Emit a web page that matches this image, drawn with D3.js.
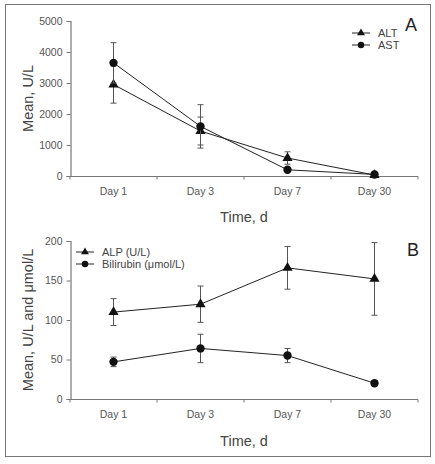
<!DOCTYPE html>
<html>
<head>
<meta charset="utf-8">
<script src="https://cdn.jsdelivr.net/npm/d3@7/dist/d3.min.js"></script>
<style>
  html, body { margin: 0; padding: 0; background: #fff; }
  svg { display: block; }
  text { font-family: "Liberation Sans", Arial, sans-serif; }
</style>
</head>
<body>
<svg id="chart" width="435" height="464"></svg>
<script>
// ---- Data ----
const days = ["Day 1", "Day 3", "Day 7", "Day 30"];

const altMean = [2950, 1450, 580, 30];
const altErr  = [600, 450, 200, 20];
const astMean = [3650, 1600, 200, 50];
const astErr  = [650, 700, 50, 20];

const alpMean = [110, 120, 166, 152];
const alpErr  = [17, 23, 27, 46];
const bilMean = [47, 64, 55, 20];
const bilErr  = [6, 18, 9, 3];

const ticksA = [0, 1000, 2000, 3000, 4000, 5000];
const ticksB = [0, 50, 100, 150, 200];

// ---- Drawing ----
const svg = d3.select("#chart");
const tickColor = "#555";
const axisColor = "#777";

svg.append("rect")
  .attr("x", 5.5).attr("y", 4.5).attr("width", 425).attr("height", 452)
  .attr("fill", "none").attr("stroke", "#777").attr("stroke-width", 1);

function panel(cfg) {
  const g = svg.append("g");
  const x = d3.scaleBand().domain(days).range([70, 418]).padding(0);
  const y = d3.scaleLinear().domain(cfg.domain).range([cfg.y0, cfg.y1]);
  const cx = d => x(d) + x.bandwidth() / 2;

  // y axis
  const ya = d3.axisLeft(y).tickValues(cfg.ticks).tickSize(4).tickPadding(4).tickFormat(d3.format("d"));
  const yg = g.append("g").attr("transform", "translate(70.5,0)").call(ya);
  // x axis
  const xa = d3.axisBottom(x).tickSize(0).tickPadding(11);
  const xg = g.append("g").attr("transform", `translate(0,${cfg.y0 + 0.5})`).call(xa);
  [yg, xg].forEach(a => {
    a.select(".domain").attr("stroke", axisColor).attr("stroke-width", 1.2);
    a.selectAll(".tick line").attr("stroke", axisColor);
    a.selectAll("text").attr("fill", tickColor).attr("font-size", 10.5)
      .style("font-family", "'Liberation Sans', Arial, sans-serif");
  });
  xg.select(".domain").attr("d", `M70,0H418`);
  // category boundary ticks
  xg.selectAll(".bt").data(d3.range(5)).enter().append("line")
    .attr("x1", i => 70 + i * x.bandwidth()).attr("x2", i => 70 + i * x.bandwidth())
    .attr("y1", 0).attr("y2", 3).attr("stroke", axisColor);

  // series
  cfg.series.forEach(s => {
    const pts = days.map((d, i) => ({ x: cx(d), m: s.mean[i], e: s.err[i] }));
    g.append("path")
      .attr("d", d3.line().x(p => p.x).y(p => y(p.m))(pts))
      .attr("fill", "none").attr("stroke", "#222").attr("stroke-width", 1);
    pts.forEach(p => {
      const top = y(p.m + p.e), bot = y(Math.max(0, p.m - p.e));
      g.append("line").attr("x1", p.x).attr("x2", p.x).attr("y1", top).attr("y2", bot)
        .attr("stroke", "#555").attr("stroke-width", 1);
      [top, bot].forEach(yy => g.append("line")
        .attr("x1", p.x - 3).attr("x2", p.x + 3).attr("y1", yy).attr("y2", yy)
        .attr("stroke", "#555").attr("stroke-width", 1));
    });
    g.selectAll(null).data(pts).enter().append("path")
      .attr("transform", p => `translate(${p.x},${y(p.m)})`)
      .attr("d", d3.symbol().type(s.sym).size(s.size))
      .attr("fill", "#111");
  });

  // legend
  cfg.series.forEach((s, i) => {
    const ly = cfg.legY + i * 12;
    g.append("line").attr("x1", cfg.legX).attr("x2", cfg.legX + 18).attr("y1", ly).attr("y2", ly)
      .attr("stroke", "#222").attr("stroke-width", 1);
    g.append("path").attr("transform", `translate(${cfg.legX + 9},${ly})`)
      .attr("d", d3.symbol().type(s.sym).size(s.size * 0.6)).attr("fill", "#111");
    g.append("text").attr("x", cfg.legX + 26).attr("y", ly + 4)
      .attr("font-size", 11).attr("fill", "#444").text(s.name);
  });

  // panel letter
  g.append("text").attr("x", cfg.letX).attr("y", cfg.letY).attr("font-size", 18)
    .attr("fill", "#222").text(cfg.letter);

  // axis titles
  g.append("text").attr("transform", `translate(33,${(cfg.y0 + cfg.y1) / 2}) rotate(-90)`)
    .attr("text-anchor", "middle").attr("font-size", 14.5).attr("fill", "#444").text(cfg.yTitle);
  g.append("text").attr("x", 244).attr("y", cfg.xTitleY)
    .attr("text-anchor", "middle").attr("font-size", 14.5).attr("fill", "#444").text("Time, d");
}

panel({
  domain: [0, 5000], y0: 176, y1: 21, ticks: ticksA,
  series: [
    { name: "ALT", mean: altMean, err: altErr, sym: d3.symbolTriangle, size: 45 },
    { name: "AST", mean: astMean, err: astErr, sym: d3.symbolCircle, size: 55 }
  ],
  legX: 352, legY: 33, letter: "A", letX: 405, letY: 31,
  yTitle: "Mean, U/L", xTitleY: 222
});

panel({
  domain: [0, 200], y0: 399, y1: 241, ticks: ticksB,
  series: [
    { name: "ALP (U/L)", mean: alpMean, err: alpErr, sym: d3.symbolTriangle, size: 45 },
    { name: "Bilirubin (μmol/L)", mean: bilMean, err: bilErr, sym: d3.symbolCircle, size: 55 }
  ],
  legX: 76, legY: 252, letter: "B", letX: 407, letY: 256,
  yTitle: "Mean, U/L and μmol/L", xTitleY: 446
});
</script>
</body>
</html>
